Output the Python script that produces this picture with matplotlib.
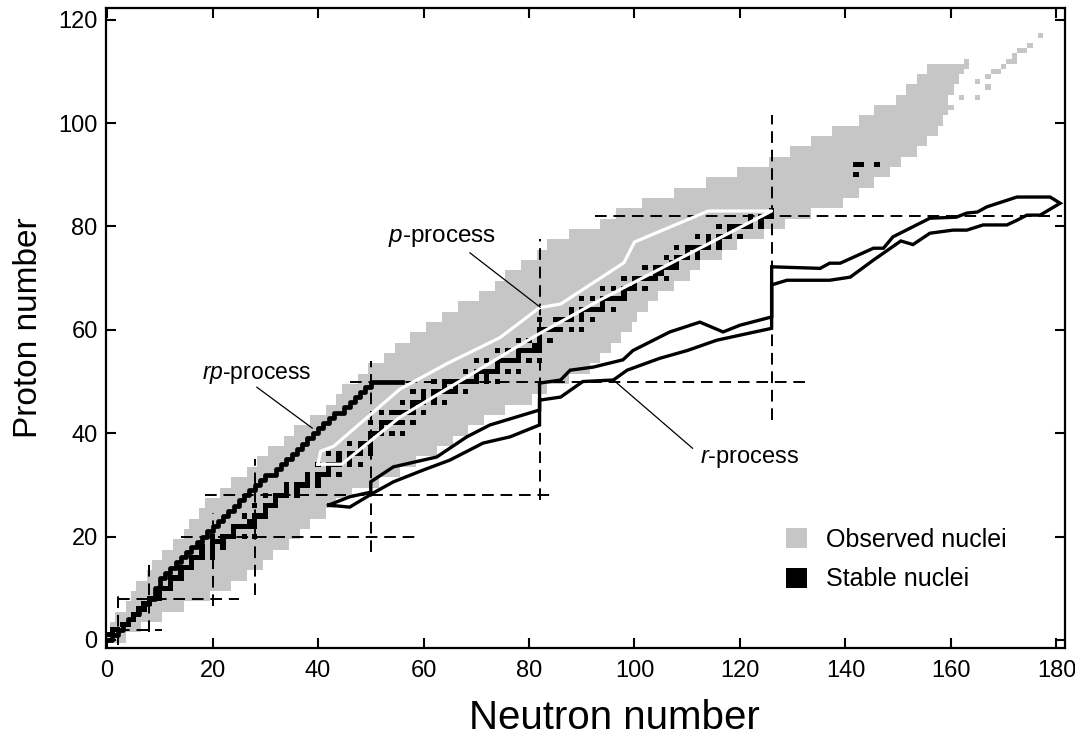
import matplotlib
matplotlib.use('Agg')
import matplotlib.pyplot as plt
from matplotlib.colors import ListedColormap
from matplotlib.patches import Patch
import numpy as np

plt.rcParams['font.family'] = ['Liberation Sans', 'DejaVu Sans']
plt.rcParams['mathtext.fontset'] = 'custom'
plt.rcParams['mathtext.rm'] = 'Liberation Sans'
plt.rcParams['mathtext.it'] = 'Liberation Sans:italic'

# observed nuclei: neutron range for each pair of proton rows (Z, Z+1)
obs_z = list(range(0, 112, 2))
obs_n_lo = [0, 1, 2, 4, 5, 6, 8, 9, 11, 13, 15, 16, 18, 19, 22, 24, 27, 29,
            31, 34, 36, 39, 42, 44, 45, 48, 50, 53, 55, 58, 61, 64, 67, 71,
            74, 76, 79, 82, 84, 88, 94, 97, 102, 108, 114, 120, 126, 130,
            134, 138, 143, 146, 150, 152, 154, 156]
obs_n_hi = [3, 6, 10, 14, 19, 23, 26, 29, 31, 34, 36, 38, 41, 43, 46, 51,
            55, 58, 62, 65, 68, 71, 75, 80, 83, 87, 91, 93, 95, 97, 99, 100,
            102, 104, 107, 110, 112, 116, 119, 124, 128, 133, 139, 142, 145,
            148, 150, 153, 155, 157, 158, 159, 159, 160, 161, 162]
# isolated superheavy nuclei above the band
extra_n = [160, 162, 165, 165, 167, 167, 168, 169, 163, 163, 170, 171, 172,
           172, 173, 174, 175, 177]
extra_z = [103, 105, 105, 108, 107, 109, 110, 110, 111, 112, 111, 112, 112,
           113, 114, 114, 115, 117]

# stable nuclei: neutron numbers for each proton number
stable_n = {
    1: [0, 1], 2: [1, 2], 3: [3, 4], 4: [5], 5: [5, 6], 6: [6, 7], 7: [7, 8],
    8: [8, 9, 10], 9: [10], 10: [10, 11, 12], 11: [12], 12: [12, 13, 14],
    13: [14], 14: [14, 15, 16], 15: [16], 16: [16, 17, 18, 20], 17: [18, 20],
    18: [18, 20, 22], 19: [20, 21, 22], 20: [20, 22, 23, 24, 26, 28],
    21: [24], 22: [24, 25, 26, 27, 28], 23: [27, 28], 24: [26, 28, 29, 30],
    25: [30], 26: [28, 30, 31, 32], 27: [32], 28: [30, 32, 33, 34, 36],
    29: [34, 36], 30: [34, 36, 37, 38, 40], 31: [38, 40],
    32: [38, 40, 41, 42, 44], 33: [42], 34: [40, 42, 43, 44, 46, 48],
    35: [44, 46], 36: [42, 44, 46, 47, 48, 50], 37: [48, 50],
    38: [46, 48, 49, 50], 39: [50], 40: [50, 51, 52, 54, 56], 41: [52],
    42: [50, 52, 53, 54, 55, 56, 58], 44: [52, 54, 55, 56, 57, 58, 60],
    45: [58], 46: [56, 58, 59, 60, 62, 64], 47: [60, 62],
    48: [58, 60, 62, 63, 64, 65, 66, 68], 49: [64, 66],
    50: [62, 64, 65, 66, 67, 68, 69, 70, 72, 74], 51: [70, 72],
    52: [68, 70, 71, 72, 73, 74, 76, 78], 53: [74],
    54: [70, 72, 74, 75, 76, 77, 78, 80, 82], 55: [78],
    56: [74, 76, 78, 79, 80, 81, 82], 57: [81, 82], 58: [78, 80, 82, 84],
    59: [82], 60: [82, 83, 84, 85, 86, 88, 90],
    62: [82, 85, 86, 87, 88, 90, 92], 63: [88, 90],
    64: [88, 90, 91, 92, 93, 94, 96], 65: [94],
    66: [90, 92, 94, 95, 96, 97, 98], 67: [98],
    68: [94, 96, 98, 99, 100, 102], 69: [100],
    70: [98, 100, 101, 102, 103, 104, 106], 71: [104, 105],
    72: [102, 104, 105, 106, 107, 108], 73: [107, 108],
    74: [106, 108, 109, 110, 112], 75: [110, 112],
    76: [108, 110, 111, 112, 113, 114, 116], 77: [114, 116],
    78: [112, 114, 116, 117, 118, 120], 79: [118],
    80: [116, 118, 119, 120, 121, 122, 124], 81: [122, 124],
    82: [122, 124, 125, 126], 83: [126], 90: [142], 92: [142, 143, 146],
}

# rp-process path
rp_n = list(range(0, 51)) + [52, 54, 56]
rp_z = [0, 1, 2, 3, 4, 5, 6, 7, 8, 10, 12, 13, 14, 15, 16, 17, 18, 19, 20,
        21, 22, 23, 24, 25, 26, 27, 28, 29, 30, 31, 32, 32, 33, 34, 35, 36,
        37, 38, 39, 40, 41, 42, 43, 44, 44, 45, 46, 47, 48, 49, 50, 50, 50, 50]

# p-process region outline
p_n = [40, 40.5, 43, 55.5, 64.5, 74.5, 82, 86, 98, 100, 114, 126,
       93.5, 80.8, 55.5, 44.5, 40]
p_z = [34, 36.5, 37.5, 48.5, 53.5, 58.5, 64.3, 65, 73, 77, 83, 83,
       65.8, 58.6, 43.1, 34, 34]

# r-process band outline (upper edge out, lower edge back)
r_n = [42, 46, 50, 50, 54.3, 62.5, 68.2, 72.6, 82, 82, 86, 87.8, 92.2, 97.8,
       99.7, 106.7, 112.4, 116.8, 120, 126, 126, 135.2, 137, 139, 145.3,
       147.2, 149, 156, 161, 163, 165, 166.8, 172.5, 178.8, 180.7,
       176.9, 174.4, 172.5, 170.6, 166.1, 163, 160.4, 156, 152.8, 150.5,
       145.3, 140.9, 137, 128.9, 126, 126, 115.6, 110, 104.8, 98.6, 96,
       90.2, 86, 82, 82, 76.4, 71.3, 65, 60, 54.3, 50.4, 46, 42]
r_z = [26.1, 27.7, 28.6, 30.6, 33.5, 35.4, 39.3, 41.6, 44.5, 49.7, 50.3,
       52.2, 52.8, 54.2, 56, 59.6, 61.5, 59.6, 60.9, 62.5, 72.2, 71.9, 72.9,
       72.9, 75.8, 75.8, 78, 81.6, 81.8, 82.6, 82.8, 83.8, 85.7, 85.7, 84.5,
       82.2, 82.2, 81.2, 80.3, 80.3, 79.3, 79.3, 78.7, 76.5, 77.2, 73.5,
       70.2, 69.6, 69.6, 68.7, 60.3, 58, 56, 54.5, 52.2, 50.3, 50, 47, 46.4,
       41.6, 39.3, 38.1, 34.8, 32.9, 30.6, 28.4, 25.7, 26.1]

# magic numbers: dashed guide lines (value, start, end)
magic_n = [(2, -1, 9), (8, 1.5, 15), (20, 6.5, 24.5), (28, 8.7, 35),
           (50, 17, 54), (82, 27, 77.5), (126, 42.5, 101.5)]
magic_z = [(2, 2, 10.5), (8, 2, 25), (20, 14, 59.5), (28, 18.5, 84),
           (50, 46, 133), (82, 92.5, 181)]

gray = '#c6c6c6'

grid = np.zeros((126, 186))
for z, lo, hi in zip(obs_z, obs_n_lo, obs_n_hi):
    grid[z:z + 2, lo:hi + 1] = 1
for n, z in zip(extra_n, extra_z):
    grid[z, n] = 1
for z, ns in stable_n.items():
    for n in ns:
        grid[z, n] = 2

fig = plt.figure(figsize=(10.75, 7.42), dpi=100)
ax = fig.add_axes([0.0986, 0.1267, 0.892, 0.862])

ax.pcolormesh(np.arange(-0.5, 186), np.arange(-0.5, 126),
              np.ma.masked_equal(grid, 0),
              cmap=ListedColormap([gray, 'black']), vmin=1, vmax=2)

for n, z0, z1 in magic_n:
    ax.plot([n, n], [z0, z1], color='black', lw=1.4, ls=(0, (6, 3.5)))
for z, n0, n1 in magic_z:
    ax.plot([n0, n1], [z, z], color='black', lw=1.4, ls=(0, (6, 3.5)))

ax.step(rp_n, rp_z, where='post', color='black', lw=3.4)
ax.plot(p_n, p_z, color='white', lw=2.3)
ax.plot(r_n, r_z, color='black', lw=2.4, solid_joinstyle='miter')

# labels with leader lines
ax.text(18, 51.3, r'$\mathit{rp}$-process', fontsize=16.5, va='center')
ax.plot([28.4, 38.9], [48.9, 41.0], color='black', lw=0.9)
ax.text(53.3, 77.9, r'$\mathit{p}$-process', fontsize=17.5, va='center')
ax.plot([68.8, 82.1], [74.9, 64.4], color='black', lw=0.9)
ax.text(112.4, 35.2, r'$\mathit{r}$-process', fontsize=17, va='center')
ax.plot([96, 111], [50.3, 37.1], color='black', lw=0.9)

handles = [Patch(facecolor=gray, label='Observed nuclei'),
           Patch(facecolor='black', label='Stable nuclei')]
ax.legend(handles=handles, loc='upper left', bbox_to_anchor=(0.709, 0.188),
          frameon=False, fontsize=18, handlelength=0.85, handleheight=0.85,
          handletextpad=0.75, labelspacing=0.62, borderpad=0,
          borderaxespad=0)

ax.set_xlim(-0.2, 181.6)
ax.set_ylim(-1.55, 122.2)
ax.set_xticks(range(0, 181, 20))
ax.set_yticks(range(0, 121, 20))
ax.tick_params(direction='in', length=7, width=1.5, top=True, right=True,
               labelsize=17)
ax.tick_params(axis='x', pad=9)
ax.tick_params(axis='y', pad=6)
for s in ax.spines.values():
    s.set_linewidth(1.6)

ax.set_xlabel('Neutron number', fontsize=29)
ax.xaxis.set_label_coords(0.53, -0.08)
ax.set_ylabel('Proton number', fontsize=24, labelpad=10)

fig.savefig('out.png', dpi=100)
